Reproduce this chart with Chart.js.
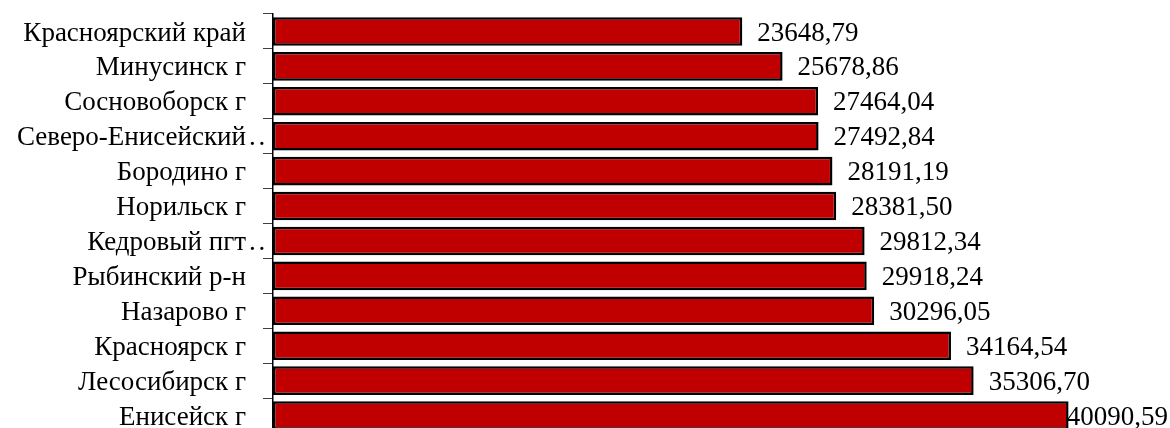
<!DOCTYPE html>
<html lang="ru">
<head>
<meta charset="utf-8">
<title>Средние значения по территориям</title>
<script src="https://cdn.jsdelivr.net/npm/chart.js@4.4.1/dist/chart.umd.min.js"></script>
<style>
  html, body { margin: 0; padding: 0; background: #ffffff; overflow: hidden; }
  #wrap { position: relative; width: 1170px; height: 434px; }
</style>
</head>
<body>
<div id="wrap"><canvas id="chart"></canvas></div>
<script>
// Territories, top to bottom ('..' marks a shortened name)
const territories = [
  'Красноярский край',
  'Минусинск г',
  'Сосновоборск г',
  'Северо-Енисейский..',
  'Бородино г',
  'Норильск г',
  'Кедровый пгт..',
  'Рыбинский р-н',
  'Назарово г',
  'Красноярск г',
  'Лесосибирск г',
  'Енисейск г'
];

// Value per territory
const values = [
  23648.79, 25678.86, 27464.04, 27492.84, 28191.19, 28381.50,
  29812.34, 29918.24, 30296.05, 34164.54, 35306.70, 40090.59
];

// Value axis range
const valueMin = 0;
const valueMax = 45000;

const FONT = '"Liberation Serif", "Times New Roman", serif';
const FONT_SIZE = 27;
const LABEL_SHIFT = 2;

const fmt = v => v.toFixed(2).replace('.', ',');
const isShortened = s => s.endsWith('..');

// Writes each value to the right of its bar
const valueLabels = {
  id: 'valueLabels',
  afterDatasetsDraw(chart) {
    const ctx = chart.ctx;
    const meta = chart.getDatasetMeta(0);
    ctx.save();
    ctx.font = FONT_SIZE + 'px ' + FONT;
    ctx.fillStyle = '#000000';
    ctx.textAlign = 'left';
    ctx.textBaseline = 'middle';
    meta.data.forEach((bar, i) => {
      const text = fmt(values[i]);
      const w = ctx.measureText(text).width;
      const x = Math.min(bar.x + 15, chart.width - w - 2);
      ctx.fillText(text, x, bar.y + LABEL_SHIFT);
    });
    ctx.restore();
  }
};

// Spaced trailing dots of shortened names, reaching into the tick area
const nameDots = {
  id: 'nameDots',
  afterDraw(chart) {
    const ctx = chart.ctx;
    const y = chart.scales.y;
    ctx.save();
    ctx.font = FONT_SIZE + 'px ' + FONT;
    ctx.fillStyle = '#000000';
    ctx.textAlign = 'left';
    ctx.textBaseline = 'middle';
    territories.forEach((name, i) => {
      if (!isShortened(name)) return;
      const py = y.getPixelForValue(i) + LABEL_SHIFT;
      ctx.fillText('.', y.right - 24, py);
      ctx.fillText('.', y.right - 14.5, py);
    });
    ctx.restore();
  }
};

new Chart(document.getElementById('chart'), {
  type: 'bar',
  data: {
    labels: territories,
    datasets: [{
      data: values,
      backgroundColor: '#C00000',
      borderColor: '#000000',
      borderWidth: 2.5,
      borderSkipped: false,
      barPercentage: 0.82,
      categoryPercentage: 1.0
    }]
  },
  options: {
    indexAxis: 'y',
    responsive: true,
    maintainAspectRatio: false,
    animation: false,
    layout: { padding: { top: 14, right: 4, bottom: 1, left: 0 } },
    plugins: {
      legend: { display: false },
      tooltip: { enabled: false }
    },
    scales: {
      x: {
        display: false,
        min: valueMin,
        max: valueMax
      },
      y: {
        afterFit(scale) {
          scale.width = 273;
          scale.paddingTop = 0;
          scale.paddingBottom = 0;
        },
        grid: {
          display: true,
          drawOnChartArea: false,
          drawTicks: true,
          tickLength: 10,
          offset: true,
          color: '#404040'
        },
        border: { display: true, color: '#000000', width: 1.5 },
        ticks: {
          padding: 17,
          labelOffset: LABEL_SHIFT,
          color: '#000000',
          autoSkip: false,
          font: { family: FONT, size: FONT_SIZE },
          callback(value) {
            const name = this.getLabelForValue(value);
            return isShortened(name) ? name.slice(0, -2) : name;
          }
        }
      }
    }
  },
  plugins: [valueLabels, nameDots]
});
</script>
</body>
</html>
